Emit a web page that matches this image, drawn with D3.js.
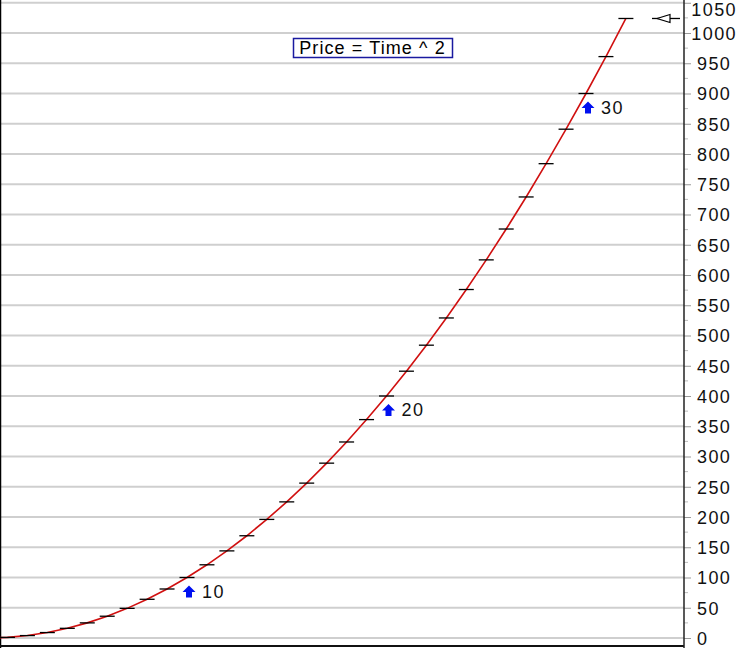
<!DOCTYPE html>
<html>
<head>
<meta charset="utf-8">
<script src="https://cdn.jsdelivr.net/npm/d3@7"></script>
<style>
	html, body { margin: 0; padding: 0; background: #fff; }
	svg { display: block; font-family: 'Liberation Sans', Arial, sans-serif; }
</style>
</head>
<body>
<div id="chart"></div>
<script>
// series: price = time ^ 2
const times = [0, 1, 2, 3, 4, 5, 6, 7, 8, 9, 10, 11, 12, 13, 14, 15, 16,
	17, 18, 19, 20, 21, 22, 23, 24, 25, 26, 27, 28, 29, 30, 31, 32];
const prices = [0, 1, 4, 9, 16, 25, 36, 49, 64, 81, 100, 121, 144, 169, 196, 225, 256,
	289, 324, 361, 400, 441, 484, 529, 576, 625, 676, 729, 784, 841, 900, 961, 1024];
const markedTimes = [10, 20, 30];
const priceTicks = [0, 50, 100, 150, 200, 250, 300, 350, 400, 450, 500,
	550, 600, 650, 700, 750, 800, 850, 900, 950, 1000, 1050];
const minorTicks = [25, 75, 125, 175, 225, 275, 325, 375, 425, 475, 525,
	575, 625, 675, 725, 775, 825, 875, 925, 975, 1025];
const title = 'Price = Time ^ 2';

const width = 740;
const height = 648;
const axisX = 684;

const data = times.map((t, i) => ({ t: t, p: prices[i] }));

const x = d3.scaleLinear().domain([0, 32]).range([-12.5, 625.9]);
const y = d3.scaleLinear().domain([0, 1050]).range([638, 2.75]);

const svg = d3.select('#chart').append('svg')
	.attr('width', width)
	.attr('height', height);

svg.append('defs').append('clipPath')
	.attr('id', 'plot')
	.append('rect')
	.attr('x', 0).attr('y', 0)
	.attr('width', axisX).attr('height', height);

// grid
svg.append('g')
	.selectAll('line')
	.data(priceTicks)
	.join('line')
	.attr('x1', 0).attr('x2', axisX)
	.attr('y1', d => y(d)).attr('y2', d => y(d))
	.attr('stroke', '#cfcfcf')
	.attr('stroke-width', 2);

// frame
svg.append('line')
	.attr('x1', 0.5).attr('x2', 0.5).attr('y1', 0).attr('y2', height)
	.attr('stroke', '#000').attr('stroke-width', 1.5);
svg.append('line')
	.attr('x1', 0).attr('x2', axisX).attr('y1', 646).attr('y2', 646)
	.attr('stroke', '#111').attr('stroke-width', 2);

// right axis
const axis = d3.axisRight(y)
	.tickValues(priceTicks)
	.tickSize(7)
	.tickFormat(d3.format('d'));

const axisG = svg.append('g')
	.attr('transform', `translate(${axisX},0)`)
	.call(axis);
axisG.select('.domain').remove();
axisG.selectAll('.tick line').attr('stroke', '#999').attr('stroke-width', 1);
axisG.selectAll('.tick text')
	.attr('font-size', 18)
	.attr('letter-spacing', '1.4px')
	.attr('fill', '#111')
	.attr('x', 13)
	.attr('dy', '0.36em')
	.attr('font-family', "'Liberation Sans', Arial, sans-serif");
axisG.selectAll('.tick text').each(function(d) {
	const w = this.getComputedTextLength();
	const t = d3.select(this);
	if (axisX + 13 + w > 737) t.attr('x', 737 - axisX - w);
	// keep the top label inside the window
	if (d === 1050) t.attr('dy', '0.72em');
});

svg.append('g')
	.selectAll('line')
	.data(minorTicks)
	.join('line')
	.attr('x1', axisX).attr('x2', axisX + 4)
	.attr('y1', d => y(d)).attr('y2', d => y(d))
	.attr('stroke', '#bbb');

svg.append('line')
	.attr('x1', axisX).attr('x2', axisX).attr('y1', 0).attr('y2', height)
	.attr('stroke', '#222').attr('stroke-width', 1.5);

// series
const plot = svg.append('g').attr('clip-path', 'url(#plot)');

plot.append('path')
	.datum(data)
	.attr('fill', 'none')
	.attr('stroke', '#d01010')
	.attr('stroke-width', 1.6)
	.attr('d', d3.line().x(d => x(d.t)).y(d => y(d.p)));

plot.append('g')
	.selectAll('line')
	.data(data)
	.join('line')
	.attr('x1', d => x(d.t) - 7.5).attr('x2', d => x(d.t) + 7.5)
	.attr('y1', d => y(d.p)).attr('y2', d => y(d.p))
	.attr('stroke', '#000')
	.attr('stroke-width', 1.3);

// last value marker on the axis
const last = data[data.length - 1];
const my = y(last.p);
svg.append('line')
	.attr('x1', 652).attr('x2', 680).attr('y1', my).attr('y2', my)
	.attr('stroke', '#000').attr('stroke-width', 1.3);
svg.append('path')
	.attr('d', `M657,${my} L670,${my - 4} L670,${my + 4} Z`)
	.attr('fill', '#fff')
	.attr('stroke', '#000')
	.attr('stroke-width', 1.2);

// marked points: blue arrows with labels
const marks = data.filter(d => markedTimes.includes(d.t));
const markG = svg.append('g')
	.selectAll('g')
	.data(marks)
	.join('g')
	.attr('transform', d => `translate(${x(d.t) + 2},${y(d.p) + 8})`);

markG.append('path')
	.attr('d', 'M0,0 L6.5,6.5 L3,6.5 L3,12 L-3,12 L-3,6.5 L-6.5,6.5 Z')
	.attr('fill', '#0010f0');

markG.append('text')
	.attr('x', 13)
	.attr('y', 6)
	.attr('dy', '0.36em')
	.attr('font-size', 18)
	.attr('letter-spacing', '1.4px')
	.attr('fill', '#111')
	.text(d => d.t);

// title box
const tg = svg.append('g');
tg.append('text')
	.attr('x', 372.5)
	.attr('y', 47.5)
	.attr('dy', '0.36em')
	.attr('text-anchor', 'middle')
	.attr('font-size', 18)
	.attr('letter-spacing', '1.1px')
	.attr('fill', '#000')
	.text(title);
tg.insert('rect', 'text')
	.attr('x', 293.5).attr('y', 38.5)
	.attr('width', 159).attr('height', 19)
	.attr('fill', '#fff')
	.attr('stroke', '#1a1aa0')
	.attr('stroke-width', 1.5);
</script>
</body>
</html>
